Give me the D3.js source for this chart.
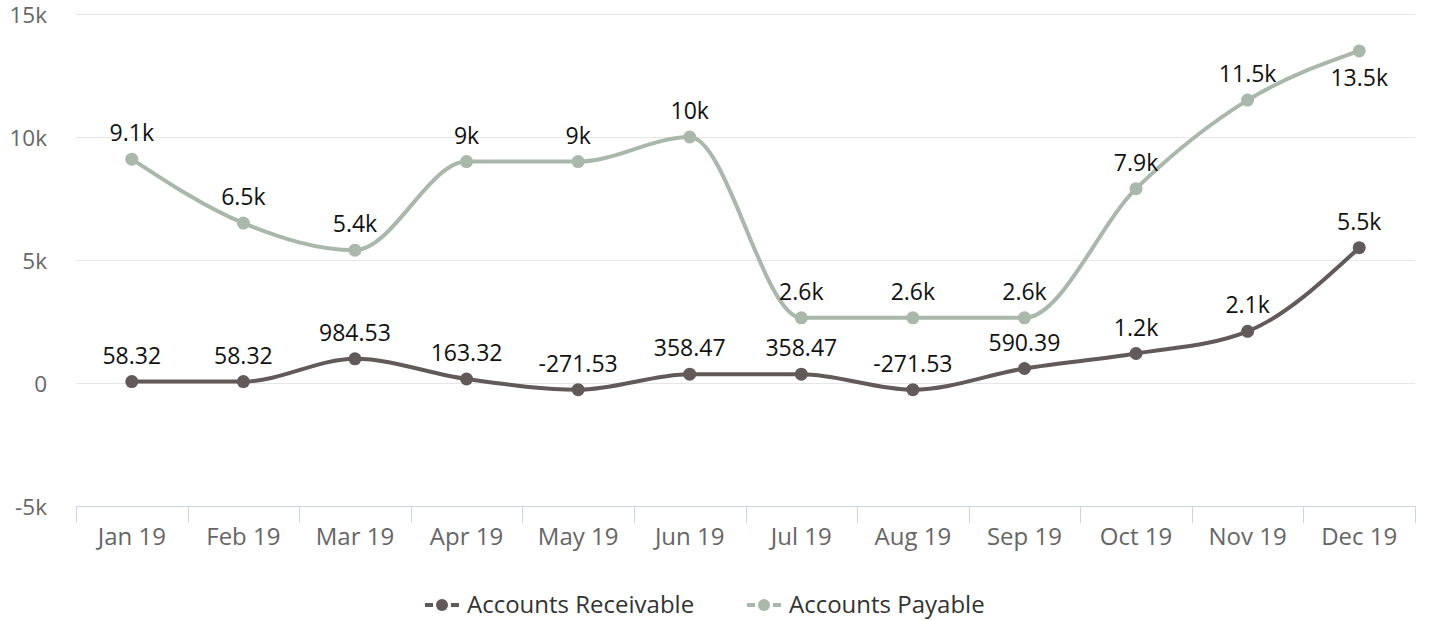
<!DOCTYPE html>
<html><head><meta charset="utf-8">
<script src="https://cdn.jsdelivr.net/npm/d3@7"></script>
<style>body{margin:0;background:#fff;font-family:"Open Sans",sans-serif}</style>
</head><body><svg id="c" width="1429" height="621"></svg>
<script>
const categories = ["Jan 19","Feb 19","Mar 19","Apr 19","May 19","Jun 19","Jul 19","Aug 19","Sep 19","Oct 19","Nov 19","Dec 19"];
const receivable = [58.32,58.32,984.53,163.32,-271.53,358.47,358.47,-271.53,590.39,1200,2100,5500];
const payable = [9100,6500,5400,9000,9000,10000,2650,2650,2650,7900,11500,13500];
const payableLabels = ["9.1k","6.5k","5.4k","9k","9k","10k","2.6k","2.6k","2.6k","7.9k","11.5k","13.5k"];
const yTicks = [-5000,0,5000,10000,15000];
const seriesNames = ["Accounts Receivable","Accounts Payable"];
const colors = ["#615a59","#a9b8ab"];

const svg = d3.select("#c");
const L=76,R=1415,T=14,B=506;
const x = d3.scaleBand().domain(categories).range([L,R]);
const y = d3.scaleLinear().domain([-5000,15000]).range([B,T]);
const fmtY = v => v===0 ? "0" : (v/1000)+"k";
const fmtL = v => (Math.abs(v)>=1000 ? (+(v/1000).toFixed(1))+"k" : v.toFixed(2));

// grid
svg.append("g").selectAll("line").data(yTicks.filter(t=>t!==-5000)).join("line")
  .attr("x1",L).attr("x2",R).attr("y1",d=>y(d)+0.5).attr("y2",d=>y(d)+0.5)
  .attr("stroke","#e6e6e6").attr("stroke-width",1);
svg.append("g").selectAll("text").data(yTicks).join("text")
  .attr("x",47).attr("y",d=>y(d)+1.5).attr("dy","0.35em").attr("text-anchor","end")
  .attr("fill","#666").style("font-size","22.5px").text(fmtY);

// x axis
const xa = svg.append("g");
xa.append("line").attr("x1",L).attr("x2",R).attr("y1",B+0.5).attr("y2",B+0.5).attr("stroke","#ccd6eb");
const bounds = categories.map(c=>x(c)).concat([R]);
xa.selectAll("line.t").data(bounds).join("line").attr("class","t")
  .attr("x1",d=>Math.round(d)+0.5).attr("x2",d=>Math.round(d)+0.5).attr("y1",B).attr("y2",B+17).attr("stroke","#ccd6eb");
xa.selectAll("text").data(categories).join("text")
  .attr("x",d=>x(d)+x.bandwidth()/2).attr("y",537).attr("dy","0.35em").attr("text-anchor","middle")
  .attr("fill","#666").style("font-size","24px").text(d=>d);

const line = d3.line().x((d,i)=>x(categories[i])+x.bandwidth()/2).y(d=>y(d)).curve(d3.curveMonotoneX);
const allSeries=[receivable,payable];
const allLabels=[receivable.map(fmtL), payableLabels];
allSeries.forEach((s,k)=>{
  const g=svg.append("g");
  g.append("path").attr("d",line(s)).attr("fill","none").attr("stroke",colors[k]).attr("stroke-width",4);
  g.selectAll("circle").data(s).join("circle")
    .attr("cx",(d,i)=>x(categories[i])+x.bandwidth()/2).attr("cy",d=>y(d)).attr("r",6.5).attr("fill",colors[k]);
});
allSeries.forEach((s,k)=>{
  svg.append("g").selectAll("text").data(s).join("text")
    .attr("x",(d,i)=>x(categories[i])+x.bandwidth()/2)
    .attr("y",d=> (y(d)-38 < T) ? y(d)+27 : y(d)-26)
    .attr("dy","0.35em").attr("text-anchor","middle").attr("fill","#111")
    .style("font-size","23px").text((d,i)=>allLabels[k][i]);
});

// legend
const lg = svg.append("g");
const items=[{x:425,tx:467},{x:747,tx:789}];
items.forEach((it,k)=>{
  lg.append("line").attr("x1",it.x).attr("x2",it.x+34).attr("y1",605).attr("y2",605)
    .attr("stroke",colors[k]).attr("stroke-width",4).attr("stroke-dasharray","8,5");
  lg.append("circle").attr("cx",it.x+17).attr("cy",605).attr("r",6).attr("fill",colors[k]);
  lg.append("text").attr("x",it.tx).attr("y",605).attr("dy","0.35em").attr("fill","#333")
    .style("font-size","24px").text(seriesNames[k]);
});
</script></body></html>
